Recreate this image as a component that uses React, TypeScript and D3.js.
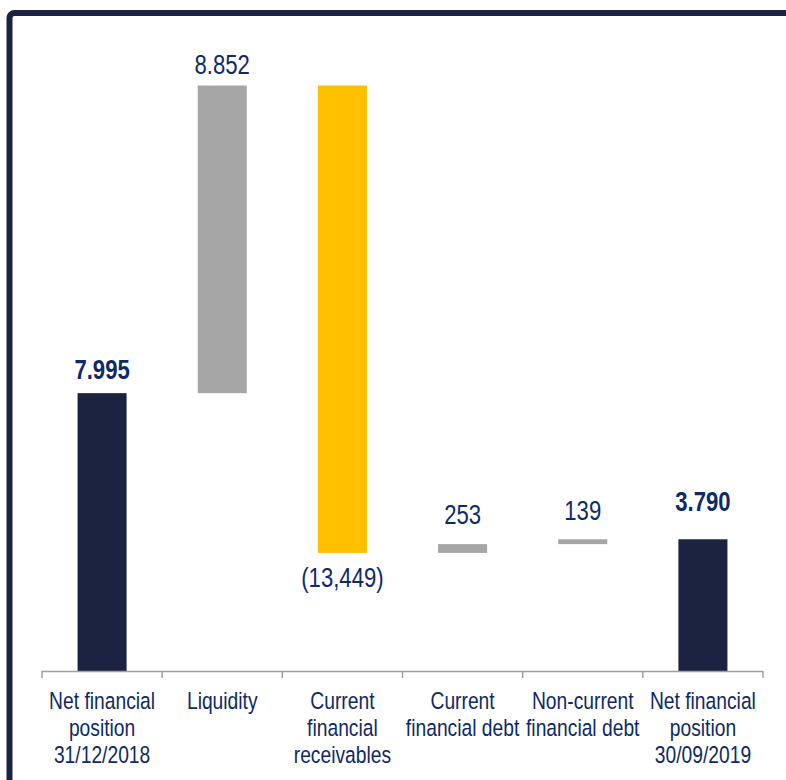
import React from "react";
import * as d3 from "d3";

const categories = [
  "Net financial position 31/12/2018",
  "Liquidity",
  "Current financial receivables",
  "Current financial debt",
  "Non-current financial debt",
  "Net financial position 30/09/2019",
];
const categoryLines = [
  ["Net financial", "position", "31/12/2018"],
  ["Liquidity"],
  ["Current", "financial", "receivables"],
  ["Current", "financial debt"],
  ["Non-current", "financial debt"],
  ["Net financial", "position", "30/09/2019"],
];
const values = [7995, 8852, -13449, 253, 139, 3790];
const kinds = ["total", "delta", "delta", "delta", "delta", "total"];
const valueLabels = ["7.995", "8.852", "(13,449)", "253", "139", "3.790"];

const NAVY = "#1b2340";
const GRAY = "#a6a6a6";
const YELLOW = "#ffc000";
const TEXT = "#0f2a66";
const FONT = "'Liberation Sans', Arial, sans-serif";
const NARROW = 0.82;

const labelGaps = [14, 12, 34, 20, 19, 28];

export default function App() {
  const W = 786;
  const H = 780;
  const x = d3
    .scaleBand<string>()
    .domain(categories)
    .range([42, 763])
    .paddingInner(0.592)
    .paddingOuter(0.296);
  const step = x.step();

  let running = 0;
  const bars = values.map((v, i) => {
    let y0: number, y1: number;
    if (kinds[i] === "total") {
      y0 = 0;
      y1 = v;
      running = v;
    } else {
      y0 = running;
      y1 = running + v;
      running = y1;
    }
    return { lo: Math.min(y0, y1), hi: Math.max(y0, y1), v, i };
  });
  const maxV = d3.max(bars, (b) => b.hi) as number;
  const y = d3.scaleLinear().domain([0, maxV]).range([671, 85.5]);

  const color = (i: number) =>
    kinds[i] === "total" ? NAVY : values[i] < 0 ? YELLOW : GRAY;

  const ticks = d3.range(categories.length + 1).map((k) => 42 + k * step);

  return (
    <svg
      width={W}
      height={H}
      style={{ position: "absolute", left: 0, top: 0, background: "#fff" }}
    >
      <rect x={9.5} y={13} width={W + 20} height={H + 20} rx={5} fill="none" stroke={NAVY} strokeWidth={6} />
      {bars.map((b) => (
        <rect
          key={b.i}
          x={x(categories[b.i])}
          width={x.bandwidth()}
          y={y(b.hi)}
          height={y(b.lo) - y(b.hi)}
          fill={color(b.i)}
        />
      ))}
      {bars.map((b) => {
        const cx = (x(categories[b.i]) as number) + x.bandwidth() / 2;
        const neg = b.v < 0;
        const yy = neg ? y(b.lo) + labelGaps[b.i] : y(b.hi) - labelGaps[b.i];
        const bold = kinds[b.i] === "total";
        return (
          <g key={"l" + b.i} transform={`translate(${cx},${yy}) scale(${NARROW},1)`}>
            <text
              x={0}
              y={0}
              textAnchor="middle"
              fontFamily={FONT}
              fontSize={27}
              fontWeight={bold ? "bold" : "normal"}
              fill={TEXT}
            >
              {valueLabels[b.i]}
            </text>
          </g>
        );
      })}
      <line x1={42} x2={763} y1={671.5} y2={671.5} stroke="#a0a0a0" strokeWidth={1.5} />
      {ticks.map((t, k) => (
        <line key={"t" + k} x1={t} x2={t} y1={671} y2={678} stroke="#a0a0a0" strokeWidth={1.5} />
      ))}
      {categories.map((c, i) => {
        const cx = (x(c) as number) + x.bandwidth() / 2;
        return (
          <g key={"c" + i} transform={`translate(${cx},0) scale(${NARROW},1)`}>
            <text textAnchor="middle" fontFamily={FONT} fontSize={23.5} fill={TEXT}>
              {categoryLines[i].map((ln, j) => (
                <tspan key={j} x={0} y={709 + j * 27}>
                  {ln}
                </tspan>
              ))}
            </text>
          </g>
        );
      })}
    </svg>
  );
}
